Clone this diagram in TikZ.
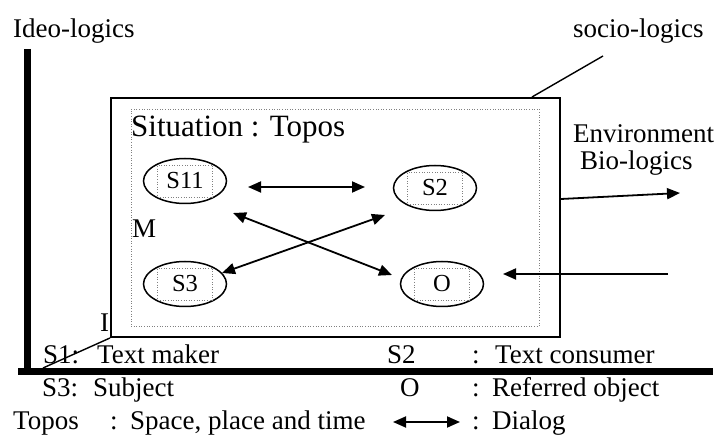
\documentclass[tikz,border=0pt]{standalone}
\usepackage{fontspec}
\setmainfont{Liberation Serif}
\usetikzlibrary{arrows.meta,shapes.geometric}
\begin{document}
\begin{tikzpicture}[x=1pt,y=-1pt,
  txt/.style={anchor=base west, inner sep=0pt, font=\fontsize{27}{32}\selectfont},
  big/.style={anchor=base west, inner sep=0pt, font=\fontsize{31}{36}\selectfont},
  ell/.style={ellipse, draw, line width=1.5pt, minimum width=83pt, minimum height=45pt, inner sep=0pt},
  lab/.style={draw=gray, dotted, line width=0.6pt, minimum width=55pt, minimum height=32pt, inner sep=0pt, font=\fontsize{24.5}{28}\selectfont},
  dlg/.style={line width=1.8pt, {Triangle[length=13pt,width=11pt]}-{Triangle[length=13pt,width=11pt]}},
  one/.style={line width=1.8pt, -{Triangle[length=13pt,width=11pt]}},
  axis/.style={line width=7pt},
  thin/.style={line width=1.4pt}
]
\useasboundingbox (0,0) rectangle (723,435);

% axes
\coordinate (vtop) at (27,49);
\coordinate (vbot) at (27,375);
\coordinate (hl) at (18,372);
\coordinate (hr) at (713,372);
\draw[axis] (vtop) -- (vbot);
\draw[axis] (hl) -- (hr);

% top labels
\node[txt] (ideo) at (13,38) {Ideo-logics};
\node[txt] (socio) at (573,38) {socio-logics};

% outer box
\node[draw, line width=2pt, fill=white, minimum width=449pt, minimum height=239pt, inner sep=0pt] (outer) at (335.5,217.5) {};
% inner dotted box
\node[draw=gray, dotted, line width=0.6pt, minimum width=408pt, minimum height=217pt, inner sep=0pt] (inner) at (335,217.5) {};

\node[big] (sit) at (131,137) {Situation : Topos};
\node[txt] (m) at (132,238) {M};
\node[txt] (i) at (100,332) {I};

% ellipses
\node[ell] (s11) at (185,181) {};
\node[lab] (s11t) at (s11) {S11};
\node[ell] (s2) at (435,188) {};
\node[lab] (s2t) at (s2) {S2};
\node[ell] (s3) at (185,284) {};
\node[lab] (s3t) at (s3) {S3};
\node[ell] (o) at (442,284) {};
\node[lab] (ot) at (o) {O};

% dialog arrows
\coordinate (d1a) at (248,187);
\coordinate (d1b) at (365,187);
\draw[dlg] (d1a) -- (d1b);
\coordinate (c1a) at (233,213);
\coordinate (c1b) at (392,275);
\draw[dlg] (c1a) -- (c1b);
\coordinate (c2a) at (385,215);
\coordinate (c2b) at (222,273);
\draw[dlg] (c2a) -- (c2b);

% environment
\node[txt] (env) at (573,143) {Environment};
\node[txt] (bio) at (580,170) {Bio-logics};
\coordinate (envend) at (680,193);
\draw[one] (outer.east |- 0,199) -- (envend);
\coordinate (inO) at (668,274);
\coordinate (inOend) at (503,274);
\draw[one] (inO) -- (inOend);

% socio line
\coordinate (soc) at (603,56);
\draw[thin] (532,97) -- (soc);

% I line
\coordinate (ibot) at (43,368);
\draw[thin] (ibot) -- (outer.south west);

% legend
\node[txt] (l1) at (43,364) {S1:};
\node[txt] (l1t) at (97,364) {Text maker};
\node[txt] (l2) at (387,364) {S2};
\node[txt] (l2c) at (472,364) {:};
\node[txt] (l2t) at (495,364) {Text consumer};
\node[txt] (l3) at (42,397) {S3:};
\node[txt] (l3t) at (93,397) {Subject};
\node[txt] (l4) at (400,397) {O};
\node[txt] (l4c) at (472,397) {:};
\node[txt] (l4t) at (492,397) {Referred object};
\node[txt] (l5) at (13,430) {Topos};
\node[txt] (l5c) at (110,430) {:};
\node[txt] (l5t) at (130,430) {Space, place and time};
\coordinate (la) at (393,422);
\coordinate (lb) at (460,422);
\draw[dlg] (la) -- (lb);
\node[txt] (l6c) at (472,430) {:};
\node[txt] (l6t) at (492,430) {Dialog};
\end{tikzpicture}
\end{document}
